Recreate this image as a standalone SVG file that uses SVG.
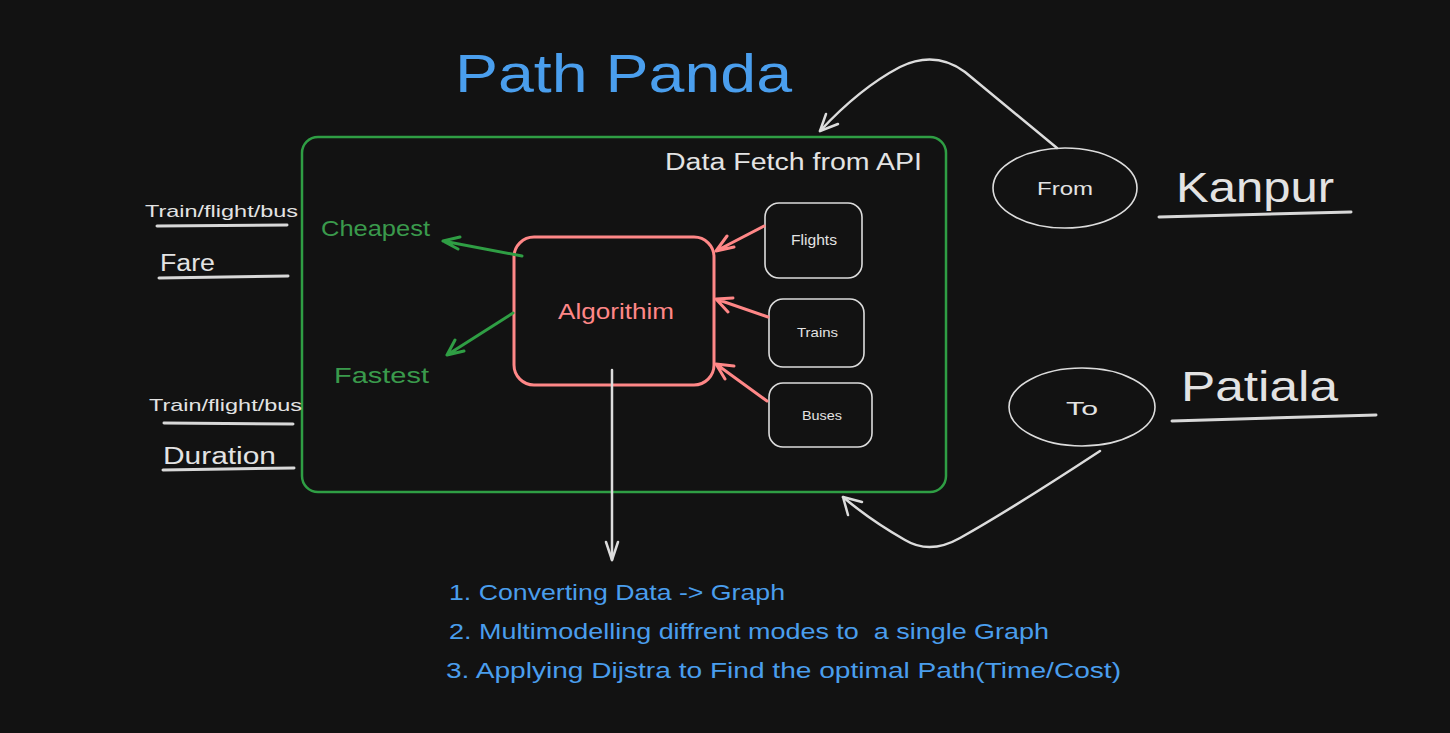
<svg xmlns="http://www.w3.org/2000/svg" width="1450" height="733" viewBox="0 0 1450 733">
<style>
text{font-family:"Liberation Sans",Arial,sans-serif;white-space:pre}
.w{fill:#e3e3e3}
.b{fill:#4a9eed}
.g{fill:#3a9a4c}
.r{fill:#ff8787}
.box{fill:none;stroke:#dcdcdc;stroke-width:1.6}
.ln{fill:none;stroke:#d8d8d8;stroke-width:3;stroke-linecap:round}
.cw{fill:none;stroke:#dcdcdc;stroke-width:2.5;stroke-linecap:round;stroke-linejoin:round}
.cr{fill:none;stroke:#ff8787;stroke-width:3;stroke-linecap:round;stroke-linejoin:round}
.cg{fill:none;stroke:#2f9e44;stroke-width:3;stroke-linecap:round;stroke-linejoin:round}
</style>
<rect width="1450" height="733" fill="#121212"/>
<text class="b" x="455" y="92" font-size="54" textLength="337" lengthAdjust="spacingAndGlyphs">Path Panda</text>
<g id="container">
<rect x="302" y="137" width="644" height="355" rx="16" fill="none" stroke="#2f9e44" stroke-width="2.5"/>
<text class="w" x="665" y="170" font-size="23" textLength="257" lengthAdjust="spacingAndGlyphs">Data Fetch from API</text>
</g>
<g id="algorithm">
<rect x="514" y="237" width="200" height="148" rx="20" fill="none" stroke="#ff8787" stroke-width="3"/>
<text class="r" x="558" y="319" font-size="22" textLength="116" lengthAdjust="spacingAndGlyphs">Algorithim</text>
</g>
<g id="flights">
<rect class="box" x="765" y="203" width="97" height="75" rx="14"/>
<text class="w" x="791" y="245" font-size="14" textLength="46" lengthAdjust="spacingAndGlyphs">Flights</text>
</g>
<g id="trains">
<rect class="box" x="769" y="299" width="95" height="68" rx="14"/>
<text class="w" x="797" y="337" font-size="13" textLength="41" lengthAdjust="spacingAndGlyphs">Trains</text>
</g>
<g id="buses">
<rect class="box" x="769" y="383" width="103" height="64" rx="14"/>
<text class="w" x="802" y="420" font-size="13" textLength="40" lengthAdjust="spacingAndGlyphs">Buses</text>
</g>
<g id="cheapest"><text class="g" x="321" y="236" font-size="22" textLength="109" lengthAdjust="spacingAndGlyphs">Cheapest</text></g>
<g id="fastest"><text class="g" x="334" y="383" font-size="22" textLength="95" lengthAdjust="spacingAndGlyphs">Fastest</text></g>
<g id="fare-label">
<text class="w" x="145" y="217" font-size="17" textLength="153" lengthAdjust="spacingAndGlyphs">Train/flight/bus</text>
<line class="ln" x1="157" y1="226" x2="287" y2="225"/>
<text class="w" x="160" y="271" font-size="23" textLength="55" lengthAdjust="spacingAndGlyphs">Fare</text>
<line class="ln" x1="159" y1="278" x2="288" y2="276"/>
</g>
<g id="duration-label">
<text class="w" x="149" y="411" font-size="17" textLength="153" lengthAdjust="spacingAndGlyphs">Train/flight/bus</text>
<line class="ln" x1="164" y1="423" x2="293" y2="424"/>
<text class="w" x="163" y="464" font-size="23" textLength="113" lengthAdjust="spacingAndGlyphs">Duration</text>
<line class="ln" x1="163" y1="470" x2="294" y2="468"/>
</g>
<g id="from">
<ellipse cx="1065" cy="188" rx="72" ry="40" class="box" stroke-width="2.5"/>
<text class="w" x="1037" y="195" font-size="19" textLength="56" lengthAdjust="spacingAndGlyphs">From</text>
</g>
<g id="kanpur">
<text class="w" x="1176" y="202" font-size="42" textLength="158" lengthAdjust="spacingAndGlyphs">Kanpur</text>
<line class="ln" x1="1159" y1="217" x2="1351" y2="212"/>
</g>
<g id="to">
<ellipse cx="1082" cy="407" rx="73" ry="39" class="box" stroke-width="2.5"/>
<text class="w" x="1066" y="415" font-size="19" textLength="32" lengthAdjust="spacingAndGlyphs">To</text>
</g>
<g id="patiala">
<text class="w" x="1181" y="401" font-size="42" textLength="157" lengthAdjust="spacingAndGlyphs">Patiala</text>
<line class="ln" x1="1172" y1="421" x2="1376" y2="415"/>
</g>
<g id="steps">
<text class="b" x="449" y="600" font-size="22" textLength="336" lengthAdjust="spacingAndGlyphs">1. Converting Data -&gt; Graph</text>
<text class="b" x="449" y="639" font-size="22" textLength="600" lengthAdjust="spacingAndGlyphs">2. Multimodelling diffrent modes to  a single Graph</text>
<text class="b" x="446" y="678" font-size="22" textLength="675" lengthAdjust="spacingAndGlyphs">3. Applying Dijstra to Find the optimal Path(Time/Cost)</text>
</g>
<g id="connectors">
<path class="cw" d="M1057 148 L965 72 Q935 50 900 67 Q860 88 820 131"/>
<path class="cw" d="M820 131 L826 114 M820 131 L838 124"/>
<path class="cw" d="M1100 451 Q1010 510 960 538 Q930 555 905 540 Q870 520 843 497"/>
<path class="cw" d="M843 497 L862 502 M843 497 L848 515"/>
<path class="cw" d="M612 370 L612 560"/>
<path class="cw" d="M612 560 L606 542 M612 560 L618 542"/>
<path class="cr" d="M764 226 L716 251 M716 251 L734 247 M716 251 L727 236"/>
<path class="cr" d="M768 317 L716 299 M716 299 L728 312 M716 299 L733 298"/>
<path class="cr" d="M767 401 L716 364 M716 364 L725 379 M716 364 L734 366"/>
<path class="cg" d="M522 256 L443 241 M443 241 L458 249 M443 241 L460 237"/>
<path class="cg" d="M513 313 L447 355 M447 355 L464 351 M447 355 L455 340"/>
</g>
</svg>
